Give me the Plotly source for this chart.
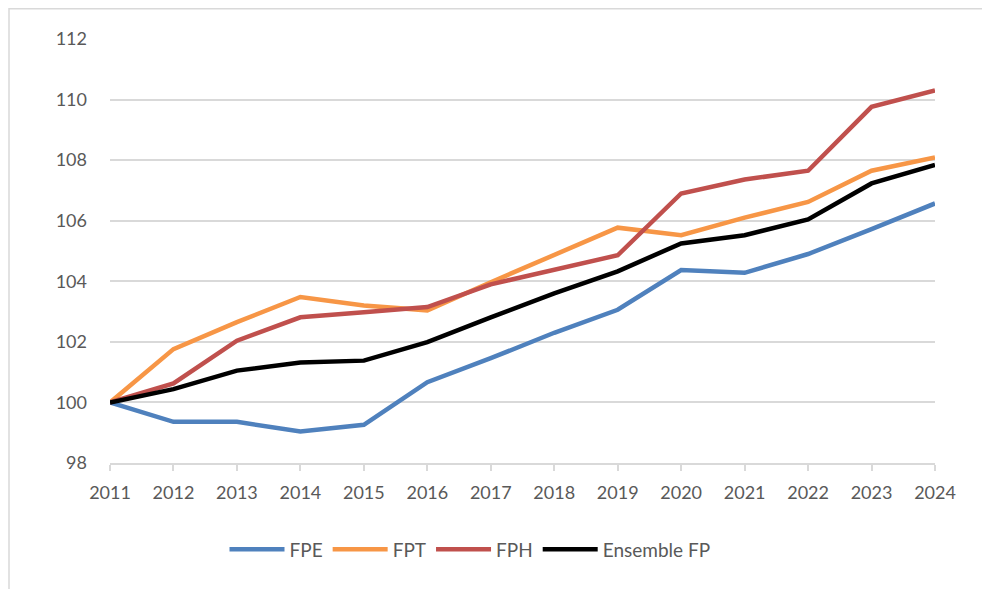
import plotly.graph_objects as go

years = list(range(2011, 2025))
fpe = [100, 99.36, 99.36, 99.04, 99.26, 100.67, 101.46, 102.3, 103.06, 104.37, 104.28, 104.9, 105.72, 106.57]
fpt = [100, 101.76, 102.65, 103.48, 103.2, 103.04, 103.97, 104.87, 105.77, 105.52, 106.1, 106.62, 107.65, 108.09]
fph = [100, 100.63, 102.04, 102.81, 102.98, 103.15, 103.9, 104.38, 104.86, 106.9, 107.36, 107.65, 109.76, 110.3]
ens = [100, 100.44, 101.05, 101.32, 101.38, 101.99, 102.81, 103.6, 104.33, 105.25, 105.52, 106.04, 107.23, 107.84]

names = ["FPE", "FPT", "FPH", "Ensemble FP"]
colors = ["#4F81BD", "#F79646", "#C0504D", "#000000"]
series = [fpe, fpt, fph, ens]
y_ticks = [98, 100, 102, 104, 106, 108, 110, 112]

fig = go.Figure()
for n, c, s in zip(names, colors, series):
    fig.add_trace(go.Scatter(x=years, y=s, name=n, mode="lines",
                             line=dict(color=c, width=4.5)))

W, H = 990, 589
OFF = 8  # page body margin
L, R, T, B = 110 - OFF, 935 - OFF, 39.3 - OFF, 462.7 - OFF
pw, ph = R - L, B - T

def px(x):
    return (x - OFF - L) / pw

def py(y):
    return (B - (y - OFF)) / ph

fig.update_layout(
    width=W, height=H,
    margin=dict(l=L, r=W - R, t=T, b=H - B, pad=0),
    paper_bgcolor="white", plot_bgcolor="white",
    font=dict(family="Lato, Liberation Sans, sans-serif", size=18, color="#595959"),
    xaxis=dict(range=[2011, 2024], tickvals=years, ticktext=[str(y) for y in years],
               showgrid=False, zeroline=False, showline=True, linecolor="#d9d9d9",
               linewidth=1.5, ticks="outside", ticklen=6, tickcolor="#d9d9d9",
               tickwidth=1.5, ticklabelstandoff=7),
    yaxis=dict(range=[98, 112], tickvals=y_ticks, showgrid=True, gridcolor="#d9d9d9",
               gridwidth=1.5, zeroline=False, showline=False, ticklabelstandoff=22),
    legend=dict(orientation="h", x=px(470), xanchor="center", y=py(549), yanchor="middle",
                font=dict(size=19, color="#595959"), itemwidth=55, tracegroupgap=0,
                bgcolor="rgba(0,0,0,0)"),
    shapes=[dict(type="rect", xref="paper", yref="paper",
                 x0=px(9), x1=px(1010), y0=py(620), y1=py(9),
                 line=dict(color="#d9d9d9", width=1.5), layer="below")],
)

fig.write_html("out.html")
